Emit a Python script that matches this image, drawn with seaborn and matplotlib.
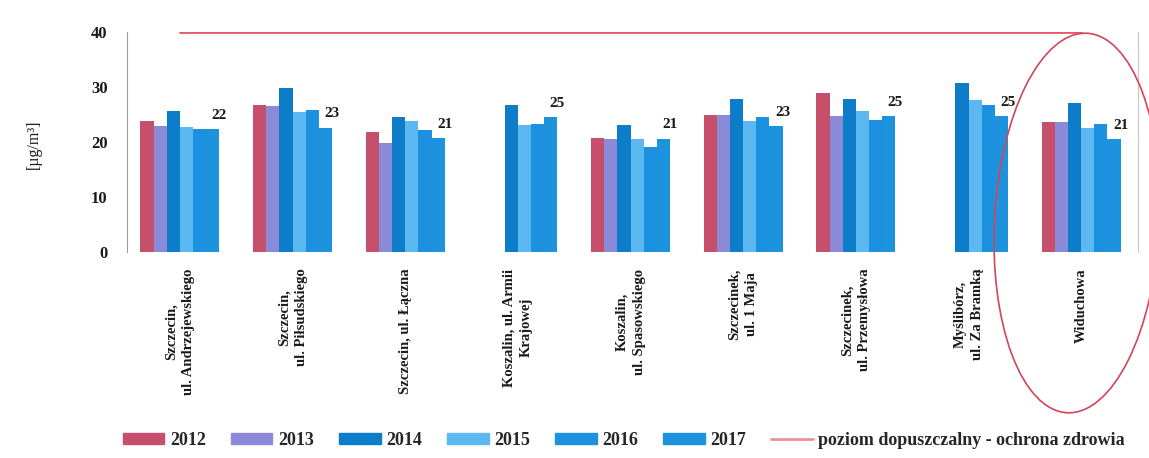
import numpy as np
import pandas as pd
import seaborn as sns
import matplotlib.pyplot as plt
from matplotlib.patches import Ellipse, Patch
from matplotlib.lines import Line2D

# ---------------- data ----------------
stations = [
    "Szczecin,\nul. Andrzejewskiego",
    "Szczecin,\nul. Piłsudskiego",
    "Szczecin, ul. Łączna",
    "Koszalin, ul. Armii\nKrajowej",
    "Koszalin,\nul. Spasowskiego",
    "Szczecinek,\nul. 1 Maja",
    "Szczecinek,\nul. Przemysłowa",
    "Myślibórz,\nul. Za Bramką",
    "Widuchowa",
]
years = ["2012", "2013", "2014", "2015", "2016", "2017"]
v2012 = [23.8, 26.8, 21.8, np.nan, 20.7, 24.9, 28.9, np.nan, 23.6]
v2013 = [22.9, 26.5, 19.8, np.nan, 20.6, 24.9, 24.7, np.nan, 23.6]
v2014 = [25.6, 29.8, 24.5, 26.7, 23.0, 27.8, 27.8, 30.7, 27.0]
v2015 = [22.7, 25.5, 23.8, 23.1, 20.5, 23.8, 25.6, 27.6, 22.6]
v2016 = [22.4, 25.8, 22.2, 23.3, 19.1, 24.5, 24.0, 26.7, 23.3]
v2017 = [22.3, 22.6, 20.7, 24.5, 20.6, 22.9, 24.7, 24.7, 20.5]
value_labels = [22, 23, 21, 25, 21, 23, 25, 25, 21]
limit = [40] * len(stations)
limit_label = "poziom dopuszczalny - ochrona zdrowia"

colors = ["#C64F6C", "#8B8AD8", "#0E7DC9", "#5BB8F0", "#1B91E0", "#1E93DD"]
line_color = "#E65B66"

series = [v2012, v2013, v2014, v2015, v2016, v2017]
rows = []
for y, vals in zip(years, series):
    for s, v in zip(stations, vals):
        rows.append({"station": s, "year": y, "value": v})
df = pd.DataFrame(rows)

# ---------------- style ----------------
sns.set_theme(style="white")
plt.rcParams["font.family"] = ["Liberation Serif", "DejaVu Serif"]
plt.rcParams["font.weight"] = "bold"

fig = plt.figure(figsize=(11.49, 4.58), dpi=100)
ax = fig.add_axes([0.1105, 0.4498, 0.8795, 0.4804])

sns.barplot(data=df, x="station", y="value", hue="year", order=stations,
            hue_order=years, palette=colors, width=0.7, gap=0, saturation=1,
            errorbar=None, legend=False, ax=ax, linewidth=0, edgecolor="none")

ax.plot(range(len(stations)), limit, color=line_color, lw=2, zorder=3)

# value labels above the 2017 bars
for bar, lab in zip(ax.containers[-1], value_labels):
    ax.annotate(str(lab), (bar.get_x() + bar.get_width(), bar.get_height()),
                xytext=(0, 10), textcoords="offset points", ha="center",
                va="center", fontsize=11, fontweight="bold", color="#1a1a1a")

ax.set_ylim(0, 40)
ax.set_xlim(-0.47, 8.5)
ax.set_yticks([0, 10, 20, 30, 40])
ax.tick_params(axis="y", length=0, pad=14, labelsize=12, colors="#1a1a1a")
ax.tick_params(axis="x", length=0, pad=12)
ax.set_xticks(range(len(stations)))
ax.set_xticklabels(stations, rotation=90, ha="center", va="top",
                   multialignment="center", fontsize=10.5, color="#1a1a1a",
                   linespacing=1.45)
ax.set_xlabel("")
ax.set_ylabel("[µg/m³]", fontsize=11.5, color="#1a1a1a")
ax.yaxis.set_label_coords(-0.084, 0.49)

for side in ["top", "bottom"]:
    ax.spines[side].set_visible(False)
ax.spines["left"].set_color("#9a9a9a")
ax.spines["left"].set_linewidth(0.8)
ax.spines["right"].set_color("#c8c8c8")
ax.spines["right"].set_linewidth(0.8)

handles = [Patch(color=c) for c in colors] + [Line2D([], [], color="#EE8F96", lw=2)]
fig.legend(handles, years + [limit_label], loc="center",
           bbox_to_anchor=(0.543, 0.039), ncol=7, frameon=False, fontsize=13,
           handlelength=2.3, handleheight=0.55, handletextpad=0.3,
           columnspacing=1.4)

# hand-drawn highlight ellipse
fig.add_artist(Ellipse((10.77, 2.35), 1.65, 3.80, angle=-3, fill=False,
                       edgecolor="#D2455A", lw=1.2,
                       transform=fig.dpi_scale_trans))

fig.savefig("out.png", dpi=100)
